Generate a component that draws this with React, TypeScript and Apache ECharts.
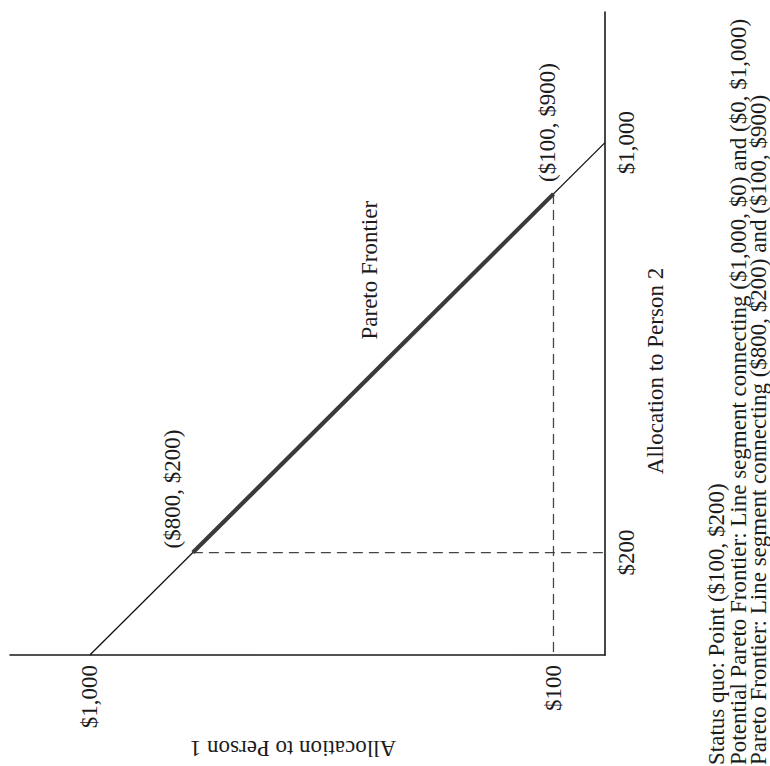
import React, { useEffect, useRef } from "react";
import * as echarts from "echarts";

// Tick labels shown on each axis
const person1Ticks = [100, 1000];
const person2Ticks = [200, 1000];

// Series values: [Allocation to Person 1, Allocation to Person 2]
const potentialFrontier = [
  [1000, 0],
  [0, 1000],
];
const paretoFrontier = [
  [800, 200],
  [100, 900],
];
const statusQuo = [100, 200];
const guideHorizontal = [
  [800, 200],
  [0, 200],
];
const guideVertical = [
  [100, 900],
  [100, 0],
];

// Texts
const pointLabels = ["($800, $200)", "($100, $900)"];
const frontierLabel = "Pareto Frontier";
const axisTitleP1 = "Allocation to Person 1";
const axisTitleP2 = "Allocation to Person 2";
const legendLines = [
  "Status quo: Point ($100, $200)",
  "Potential Pareto Frontier: Line segment connecting ($1,000, $0) and ($0, $1,000)",
  "Pareto Frontier: Line segment connecting ($800, $200) and ($100, $900)",
];

const FONT = "Liberation Serif, Times New Roman, serif";
const FS = 23;
const INK = "#1c1c1c";

const fmt = (v: number) => "$" + Number(v).toLocaleString("en-US");

export default function App() {
  const ref = useRef<HTMLDivElement>(null);

  useEffect(() => {
    if (!ref.current) return;
    const chart = echarts.init(ref.current, undefined, { renderer: "svg" });

    const axisCommon = {
      type: "value" as const,
      axisTick: { show: false },
      splitLine: { show: false },
      axisLine: { show: true, onZero: false, lineStyle: { color: "#1a1a1a", width: 1.6 } },
    };

    chart.setOption({
      animation: false,
      backgroundColor: "#ffffff",
      textStyle: { fontFamily: FONT },
      grid: { left: 10, right: 165, top: 12, bottom: 111 },
      xAxis: {
        ...axisCommon,
        inverse: true,
        min: 0,
        max: 1155,
        position: "bottom",
        axisLabel: {
          customValues: person1Ticks,
          rotate: 90,
          margin: 10,
          formatter: fmt,
          fontFamily: FONT,
          fontSize: FS,
          color: INK,
        },
      },
      yAxis: {
        ...axisCommon,
        min: 0,
        max: 1255,
        position: "right",
        axisLabel: {
          customValues: person2Ticks,
          rotate: 90,
          margin: 10,
          formatter: fmt,
          fontFamily: FONT,
          fontSize: FS,
          color: INK,
        },
      },
      series: [
        {
          name: "Potential Pareto Frontier",
          type: "line",
          data: potentialFrontier,
          symbol: "none",
          lineStyle: { color: "#111", width: 1.3 },
          z: 3,
        },
        {
          name: "Pareto Frontier",
          type: "line",
          data: paretoFrontier,
          symbol: "none",
          lineStyle: { color: "#3a3a3a", width: 4.2 },
          z: 4,
        },
        {
          name: "Guide P2",
          type: "line",
          data: guideHorizontal,
          symbol: "none",
          lineStyle: { color: "#444", width: 1.3, type: [10, 6] },
          z: 2,
        },
        {
          name: "Guide P1",
          type: "line",
          data: guideVertical,
          symbol: "none",
          lineStyle: { color: "#444", width: 1.3, type: [10, 6] },
          z: 2,
        },
        {
          name: "Status quo",
          type: "scatter",
          data: [statusQuo],
          symbolSize: 0,
        },
      ],
    });

    const px = (p: number[]) => chart.convertToPixel({ gridIndex: 0 }, p) as number[];
    const txt = (
      text: string,
      x: number,
      y: number,
      rotation: number,
      align: string,
      size = FS
    ) => ({
      type: "text",
      x,
      y,
      rotation,
      silent: true,
      style: {
        text,
        fill: INK,
        fontSize: size,
        fontFamily: FONT,
        align,
        verticalAlign: "middle",
        textAlign: align,
        textVerticalAlign: "middle",
      },
    });

    const pA = px(paretoFrontier[0]);
    const pB = px(paretoFrontier[1]);
    const mid = px([
      (paretoFrontier[0][0] + paretoFrontier[1][0]) / 2,
      (paretoFrontier[0][1] + paretoFrontier[1][1]) / 2,
    ]);
    const R = Math.PI / 2;

    chart.setOption({
      graphic: [
        txt(pointLabels[0], pA[0] - 20, pA[1] - 4, R, "left"),
        txt(pointLabels[1], pB[0] - 6, pB[1] - 12, R, "left"),
        txt(frontierLabel, mid[0] - 4, mid[1] - 103, R, "center"),
        txt(axisTitleP2, 655, 371, R, "center"),
        txt(axisTitleP1, 293, 748, Math.PI, "center"),
        txt(legendLines[0], 716, 765, R, "left"),
        txt(legendLines[1], 738, 765, R, "left"),
        txt(legendLines[2], 758, 765, R, "left"),
      ],
    });

    return () => chart.dispose();
  }, []);

  return (
    <div
      ref={ref}
      style={{ position: "fixed", left: 0, top: 0, width: 770, height: 766, background: "#fff" }}
    />
  );
}
